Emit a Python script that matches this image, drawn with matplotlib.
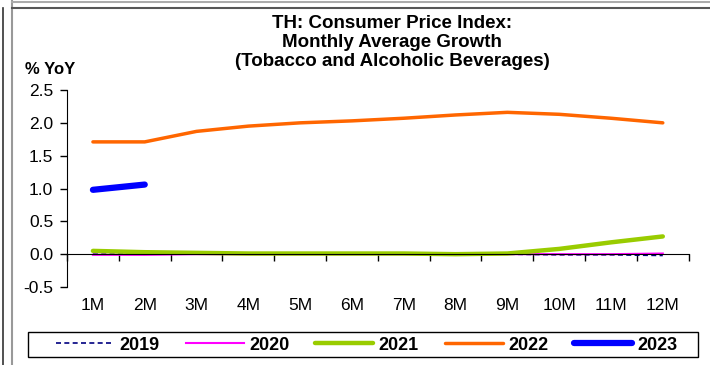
import numpy as np
import matplotlib.pyplot as plt
from matplotlib.lines import Line2D
from matplotlib.patches import Rectangle

plt.rcParams['font.family'] = ['Liberation Sans', 'DejaVu Sans']

months = ['1M', '2M', '3M', '4M', '5M', '6M', '7M', '8M', '9M', '10M', '11M', '12M']
y2019 = [0.00, 0.00, 0.00, 0.00, 0.00, 0.00, 0.00, 0.00, 0.00, -0.01, -0.01, -0.02]
y2020 = [-0.01, -0.01, 0.00, 0.00, 0.00, 0.00, 0.00, 0.00, 0.00, 0.00, 0.00, 0.01]
y2021 = [0.05, 0.03, 0.02, 0.01, 0.01, 0.01, 0.01, 0.00, 0.01, 0.08, 0.18, 0.27]
y2022 = [1.71, 1.71, 1.87, 1.95, 2.00, 2.03, 2.07, 2.12, 2.16, 2.13, 2.07, 2.00]
y2023 = [0.98, 1.06]
title_lines = ['TH: Consumer Price Index:', 'Monthly Average Growth', '(Tobacco and Alcoholic Beverages)']

W, H = 710, 365
fig = plt.figure(figsize=(7.1, 3.65), dpi=100)
ax = fig.add_axes([0.0944, 0.2137, 0.8756, 0.5397])

x = np.arange(len(months))
ax.plot(x, y2019, color='#000080', lw=1.2, ls=(0, (3, 2)), label='2019')
ax.plot(x, y2020, color='#ff00ff', lw=1.5, label='2020')
ax.plot(x, y2021, color='#99cc00', lw=3.2, label='2021', solid_capstyle='round')
ax.plot(x, y2022, color='#ff6600', lw=2.5, label='2022', solid_capstyle='round')
ax.plot(x[:len(y2023)], y2023, color='#0000ff', lw=4.5, label='2023', solid_capstyle='round')

ax.set_xlim(-0.5, 11.5)
ax.set_ylim(-0.5, 2.5)
ax.set_yticks([-0.5, 0.0, 0.5, 1.0, 1.5, 2.0, 2.5])
ax.set_yticklabels(['-0.5', '0.0', '0.5', '1.0', '1.5', '2.0', '2.5'], fontsize=12.5)

# x axis crossing at zero, labels at bottom
for s in ['top', 'right']:
    ax.spines[s].set_visible(False)
ax.spines['bottom'].set_position(('data', 0))
ax.spines['bottom'].set_bounds(-0.5, 11.5)
ax.set_xticks(np.arange(-0.5, 12, 1))
ax.set_xticklabels([])
ax.tick_params(axis='x', direction='out', length=5, width=1)
ax.tick_params(axis='y', direction='out', length=5, width=1, pad=5)
for i, m in enumerate(months):
    ax.text(i, -0.66, m, ha='center', va='top', fontsize=12.5)

for line, base in zip(title_lines, [28, 47, 66]):
    fig.text(392 / W, 1 - base / H, line, ha='center', va='baseline', fontsize=13.5, fontweight='bold')
fig.text(25 / W, 1 - 74 / H, '% YoY', ha='left', va='baseline', fontsize=12, fontweight='bold')

leg = fig.legend(loc='center', bbox_to_anchor=(367 / W, 1 - 345 / H), ncol=5, frameon=False,
                 handlelength=3.2, columnspacing=1.45, handletextpad=0.3, borderaxespad=0,
                 prop={'weight': 'bold', 'size': 13})
fig.patches.append(Rectangle((28 / W, 1 - 357 / H), 670 / W, 25 / H, transform=fig.transFigure,
                             fill=False, edgecolor='black', lw=1.0))

# surrounding frame lines
frame = [((3, 3), (8, H), '#333333', 1.2),
         ((11.5, 11.5), (0, H), '#999999', 1.5),
         ((12, W), (2, 2), '#aaaaaa', 1.5),
         ((12, W), (8, 8), '#555555', 1.5)]
for xs, ys, c, w in frame:
    fig.add_artist(Line2D([v / W for v in xs], [1 - v / H for v in ys], color=c, lw=w,
                          transform=fig.transFigure))

fig.savefig('out.png', dpi=100)
